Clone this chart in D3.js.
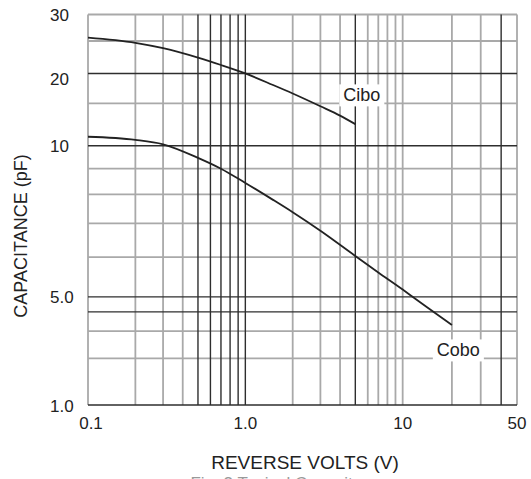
<!DOCTYPE html>
<html>
<head>
<meta charset="utf-8">
<script src="https://cdn.jsdelivr.net/npm/d3@7"></script>
<style>
body { margin: 0; background: #fff; }
svg { display: block; font-family: Arial, "Liberation Sans", Helvetica, sans-serif; }
</style>
</head>
<body>
<svg width="531" height="479"></svg>
<script>
// curves: reverse volts (V) -> capacitance (pF)
var cibo_v  = [0.1, 0.2, 0.3, 0.5, 0.7, 1.0, 1.5, 2, 3, 4, 5];
var cibo_pf = [25.6, 24.7, 23.8, 22.3, 21.2, 20.0, 17.9, 16.5, 14.6, 13.35, 12.3];
var cobo_v  = [0.1, 0.2, 0.3, 0.5, 0.7, 1.0, 1.5, 2, 3, 5, 7, 10, 12, 20];
var cobo_pf = [10.9, 10.58, 10.14, 9.46, 9.0, 8.43, 7.8, 7.37, 6.77, 6.03, 5.59, 5.17, 4.84, 3.29];

var x_ticks = [0.1, 1, 10, 50];
var x_tick_labels = ["0.1", "1.0", "10", "50"];
var y_ticks = [1, 5, 10, 20, 30];
var y_tick_labels = ["1.0", "5.0", "10", "20", "30"];

var x_grid = [0.1, 0.2, 0.3, 0.4, 0.5, 0.6, 0.7, 0.8, 0.9, 1, 2, 3, 4, 5, 6, 7, 8, 9, 10, 20, 30, 40, 50];
var x_dark = [0.5, 0.6, 0.7, 0.8, 0.9, 1, 5, 40];
var y_grid = [1, 2, 3, 4, 5, 6, 7, 8, 9, 10, 15, 20, 25, 30];
var y_dark = [1, 4, 5, 10, 20];

var margin = { top: 14.5, right: 14, bottom: 74, left: 88 };

var svg = d3.select("svg"),
    width = +svg.attr("width") - margin.left - margin.right,
    height = +svg.attr("height") - margin.top - margin.bottom;

// the printed axes are not true log axes: piecewise log between labelled values
var x = d3.scaleLog().domain([0.1, 10, 50]).range([0, width * 0.7335, width]);
var y = d3.scaleLog().domain(y_ticks)
    .range([height, height * 0.723, height * 0.336, height * 0.151, 0]);

var g = svg.append("g")
    .attr("transform", "translate(" + margin.left + "," + margin.top + ")");

function isDark(list, v) { return list.indexOf(v) >= 0; }

// grey grid first, dark lines on top
[false, true].forEach(function (dark) {
    g.selectAll(".vgrid" + dark)
        .data(x_grid.filter(function (d) { return isDark(x_dark, d) === dark; }))
        .enter().append("line")
        .attr("x1", function (d) { return x(d); })
        .attr("x2", function (d) { return x(d); })
        .attr("y1", 0).attr("y2", height)
        .attr("stroke", dark ? "#2e2e2e" : "#a9a9a9")
        .attr("stroke-width", dark ? 1.4 : 1.8);

    g.selectAll(".hgrid" + dark)
        .data(y_grid.filter(function (d) { return isDark(y_dark, d) === dark; }))
        .enter().append("line")
        .attr("y1", function (d) { return y(d); })
        .attr("y2", function (d) { return y(d); })
        .attr("x1", 0).attr("x2", width)
        .attr("stroke", dark ? "#2e2e2e" : "#a9a9a9")
        .attr("stroke-width", dark ? 1.4 : 1.8);
});

var line = d3.line()
    .x(function (d) { return x(d[0]); })
    .y(function (d) { return y(d[1]); })
    .curve(d3.curveMonotoneX);

[[cibo_v, cibo_pf], [cobo_v, cobo_pf]].forEach(function (s) {
    g.append("path")
        .datum(d3.zip(s[0], s[1]))
        .attr("fill", "none")
        .attr("stroke", "#222")
        .attr("stroke-width", 1.8)
        .attr("d", line);
});

// curve names sit on white boxes that break the grid
var names = [
    { text: "Cibo", v: 5.5, pf: 15.3 },
    { text: "Cobo", v: 21.9, pf: 2.06 }
];
names.forEach(function (n) {
    var t = g.append("text")
        .attr("x", x(n.v))
        .attr("y", y(n.pf))
        .attr("text-anchor", "middle")
        .attr("font-size", 18)
        .attr("fill", "#222")
        .text(n.text);
    var b = t.node().getBBox();
    g.insert("rect", "text")
        .attr("x", b.x - 4).attr("y", b.y - 1)
        .attr("width", b.width + 8).attr("height", b.height + 2)
        .attr("fill", "#fff");
});

g.selectAll(".xlabel")
    .data(x_ticks)
    .enter().append("text")
    .attr("x", function (d) { return x(d) + (d === 0.1 ? 3 : 0); })
    .attr("y", height + 24)
    .attr("text-anchor", "middle")
    .attr("font-size", 17)
    .attr("fill", "#222")
    .text(function (d, i) { return x_tick_labels[i]; });

g.selectAll(".ylabel")
    .data(y_ticks)
    .enter().append("text")
    .attr("x", 50 - margin.left)
    .attr("y", function (d) { return y(d) + (d === 20 ? 6 : 1); })
    .attr("dominant-baseline", "central")
    .attr("font-size", 17)
    .attr("fill", "#222")
    .text(function (d, i) { return y_tick_labels[i]; });

svg.append("text")
    .attr("x", 305)
    .attr("y", 469)
    .attr("text-anchor", "middle")
    .attr("font-size", 19)
    .attr("fill", "#222")
    .text("REVERSE VOLTS (V)");

svg.append("text")
    .attr("transform", "translate(27,236) rotate(-90)")
    .attr("text-anchor", "middle")
    .attr("font-size", 18)
    .attr("fill", "#222")
    .text("CAPACITANCE (pF)");

// caption mostly cut off by the bottom edge, as in the scan
svg.append("text")
    .attr("x", 290)
    .attr("y", 489)
    .attr("text-anchor", "middle")
    .attr("font-size", 17)
    .attr("fill", "#999")
    .text("Fig. 3 Typical Capacitance");
</script>
</body>
</html>
